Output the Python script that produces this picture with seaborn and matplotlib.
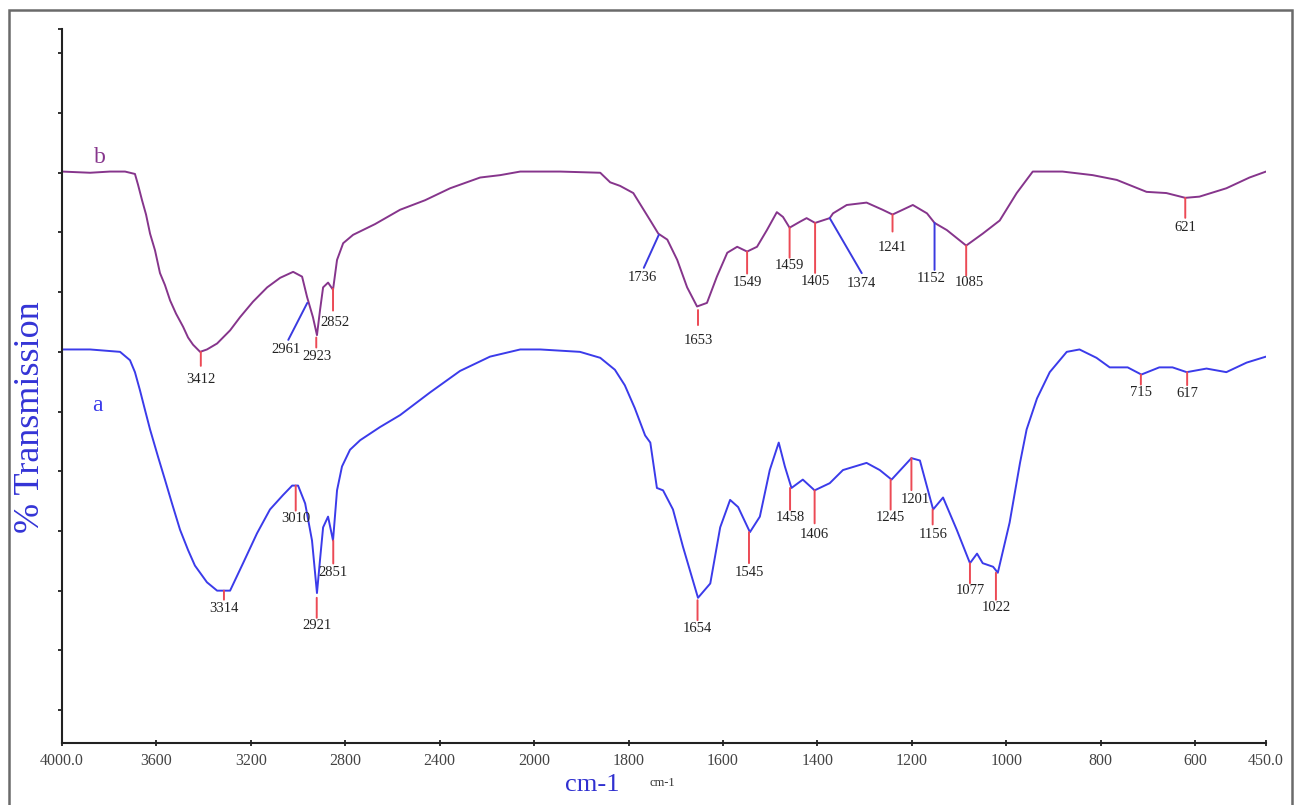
import numpy as np
import pandas as pd
import matplotlib
matplotlib.use("Agg")
import matplotlib.pyplot as plt
import seaborn as sns
from matplotlib.patches import Rectangle

# ---------------- data ----------------
wn_b = [4000, 3881, 3797, 3733, 3691, 3678, 3661, 3644, 3627, 3606, 3585, 3564, 3542, 3517, 3487,
        3466, 3445, 3415, 3386, 3343, 3288, 3246, 3191, 3131, 3076, 3021, 2983, 2962, 2937, 2920,
        2907, 2894, 2873, 2852, 2835, 2809, 2767, 2674, 2568, 2462, 2356, 2229, 2144, 2059, 2000,
        1945, 1860, 1839, 1818, 1790, 1754, 1737, 1718, 1697, 1676, 1655, 1634, 1613, 1591, 1570,
        1549, 1528, 1507, 1486, 1473, 1459, 1437, 1423, 1405, 1374, 1367, 1338, 1296, 1262, 1241,
        1198, 1168, 1152, 1126, 1085, 1050, 1014, 978, 944, 881, 817, 766, 703, 661, 621,
        591, 534, 485, 450]
t_b = [50.1, 50.0, 50.1, 50.1, 49.9, 49.0, 47.7, 46.5, 44.9, 43.5, 41.6, 40.6, 39.3, 38.2, 37.1,
       36.2, 35.6, 35.0, 35.2, 35.7, 36.8, 37.9, 39.2, 40.4, 41.2, 41.7, 41.3, 39.6, 37.9, 36.4,
       38.5, 40.4, 40.8, 40.2, 42.7, 44.1, 44.8, 45.7, 46.9, 47.7, 48.7, 49.6, 49.8, 50.1, 50.1,
       50.1, 50.0, 49.2, 48.9, 48.3, 46.0, 44.9, 44.4, 42.7, 40.4, 38.8, 39.1, 41.3, 43.3, 43.8,
       43.4, 43.8, 45.2, 46.7, 46.3, 45.4, 45.9, 46.2, 45.8, 46.2, 46.6, 47.3, 47.5, 46.9, 46.5,
       47.3, 46.6, 45.8, 45.2, 43.9, 44.9, 46.0, 48.3, 50.1, 50.1, 49.8, 49.4, 48.4, 48.3, 47.9,
       48.0, 48.7, 49.6, 50.1]

wn_a = [4000, 3881, 3754, 3712, 3691, 3670, 3648, 3627, 3593, 3564, 3534, 3500, 3466, 3437, 3386,
        3343, 3288, 3233, 3174, 3119, 3064, 3025, 3000, 2970, 2941, 2920, 2907, 2894, 2873, 2852,
        2835, 2814, 2780, 2737, 2653, 2568, 2441, 2314, 2187, 2059, 1987, 1903, 1860, 1829, 1808,
        1787, 1765, 1754, 1740, 1727, 1706, 1685, 1653, 1627, 1606, 1585, 1568, 1543, 1522, 1501,
        1482, 1469, 1455, 1431, 1406, 1374, 1346, 1296, 1268, 1243, 1201, 1183, 1155, 1134, 1105,
        1077, 1062, 1050, 1028, 1018, 993, 971, 957, 935, 908, 872, 845, 809, 781, 743,
        714, 676, 648, 618, 576, 534, 491, 450]
t_a = [35.2, 35.2, 35.0, 34.3, 33.3, 31.8, 30.1, 28.5, 26.2, 24.3, 22.3, 20.1, 18.4, 17.1, 15.7,
       15.0, 15.0, 17.3, 19.8, 21.8, 23.0, 23.8, 23.8, 22.3, 19.2, 14.8, 17.6, 20.3, 21.2, 19.2,
       23.4, 25.4, 26.8, 27.6, 28.7, 29.7, 31.6, 33.4, 34.6, 35.2, 35.2, 35.0, 34.5, 33.5, 32.2,
       30.3, 28.0, 27.4, 23.6, 23.4, 21.8, 18.7, 14.4, 15.6, 20.3, 22.6, 22.0, 19.9, 21.2, 25.1,
       27.4, 25.4, 23.6, 24.3, 23.4, 24.0, 25.1, 25.7, 25.1, 24.3, 26.1, 25.9, 21.8, 22.8, 20.1,
       17.3, 18.1, 17.3, 17.0, 16.5, 20.7, 25.7, 28.5, 31.1, 33.3, 35.0, 35.2, 34.5, 33.7, 33.7,
       33.1, 33.7, 33.7, 33.3, 33.6, 33.3, 34.1, 34.6]

# peak labels (label text = wavenumber) and transmission at the marker top
peaks_b = ['3412', '2961', '2923', '2852', '1736', '1653', '1549', '1459', '1405', '1374',
           '1241', '1152', '1085', '621']
peak_t_b = [35.0, 39.1, 36.2, 40.3, 44.8, 38.5, 43.4, 45.4, 45.8, 46.2, 46.5, 45.8, 43.9, 47.9]
peaks_a = ['3314', '3010', '2921', '2851', '1654', '1545', '1458', '1406', '1245', '1201',
           '1156', '1077', '1022', '715', '617']
peak_t_a = [15.0, 23.8, 14.4, 19.2, 14.2, 19.9, 23.6, 23.4, 24.3, 26.1, 21.8, 17.3, 16.5, 33.1, 33.3]

xtick_vals = [4000, 3600, 3200, 2800, 2400, 2000, 1800, 1600, 1400, 1200, 1000, 800, 600, 450]
xtick_labels = ['4000.0', '3600', '3200', '2800', '2400', '2000', '1800', '1600', '1400',
                '1200', '1000', '800', '600', '450.0']
ytick_vals = [5, 10, 15, 20, 25, 30, 35, 40, 45, 50, 55, 60]

# ---------------- layout (pixel offsets for peak markers) ----------------
# (line_dx, line_dy, text_dx, text_dy, color-key)
lay_b = [(0, 14, 0, 28, 'r'), (-19, 37, -21, 47, 'b'), (0, 10, 1, 19, 'r'), (0, 22, 2, 34, 'r'),
         (-15, 33, -16, 43, 'b'), (0, 15, 0, 30, 'r'), (0, 22, 0, 31, 'r'), (0, 30, 0, 38, 'r'),
         (0, 50, 0, 59, 'r'), (32, 55, 32, 65, 'b'), (0, 17, 0, 33, 'r'), (0, 47, -3, 56, 'b'),
         (0, 30, 3, 37, 'r'), (0, 20, 0, 30, 'r')]
lay_a = [(0, 9, 0, 18, 'r'), (0, 25, 0, 33, 'r'), (0, 20, 0, 28, 'r'), (0, 23, 0, 32, 'r'),
         (0, 20, 0, 28, 'r'), (0, 31, 0, 40, 'r'), (0, 22, 0, 30, 'r'), (0, 33, 0, 44, 'r'),
         (0, 30, 0, 38, 'r'), (0, 32, 4, 41, 'r'), (0, 15, 0, 25, 'r'), (0, 20, 0, 27, 'r'),
         (0, 27, 0, 35, 'r'), (0, 10, 0, 18, 'r'), (0, 13, 0, 21, 'r')]

# ---------------- figure ----------------
sns.set_theme(style="white")
plt.rcParams['font.family'] = ['Liberation Serif', 'DejaVu Serif']

W, H = 1294, 805
fig = plt.figure(figsize=(W / 100, H / 100), dpi=100)
ax = fig.add_axes([62 / W, 62 / H, 1204 / W, 714 / H])

def fwd(x):
    x = np.asarray(x, dtype=float)
    return np.where(x >= 2000, x, 2 * x - 2000)

def inv(u):
    u = np.asarray(u, dtype=float)
    return np.where(u >= 2000, u, (u + 2000) / 2)

ax.set_xscale('function', functions=(fwd, inv))

col_b = '#86358c'
col_a = '#3b3bea'
df_b = pd.DataFrame({'wn': wn_b, 'T': t_b})
df_a = pd.DataFrame({'wn': wn_a, 'T': t_a})
sns.lineplot(data=df_b, x='wn', y='T', ax=ax, color=col_b, lw=1.4, estimator=None)
sns.lineplot(data=df_a, x='wn', y='T', ax=ax, color=col_a, lw=1.4, estimator=None)

ax.set_xlim(4000, 450)
ax.set_ylim(2.24, 62.04)

colors = {'r': '#ec4a55', 'b': '#3a3ae0'}

def mark(labels, tvals, lay):
    for lab, tv, (ldx, ldy, tdx, tdy, ck) in zip(labels, tvals, lay):
        x = float(lab)
        ax.annotate('', xy=(x, tv), xytext=(ldx, -ldy), textcoords='offset pixels',
                    arrowprops=dict(arrowstyle='-', color=colors[ck], lw=1.4,
                                    shrinkA=0, shrinkB=0))
        ax.annotate(lab, xy=(x, tv), xytext=(tdx, -tdy), textcoords='offset pixels',
                    ha='center', va='center', fontsize=10.5, color='#222222')

mark(peaks_b, peak_t_b, lay_b)
mark(peaks_a, peak_t_a, lay_a)

ax.text(3839, 51.3, 'b', color=col_b, fontsize=17, ha='center', va='center')
ax.text(3852, 30.5, 'a', color=col_a, fontsize=17, ha='center', va='center')

ax.set_xticks(xtick_vals)
ax.set_xticklabels(xtick_labels)
ax.set_yticks(ytick_vals + [62.04])
ax.set_yticklabels([])
ax.minorticks_off()
ax.tick_params(axis='x', direction='inout', length=5, width=1.3, colors='#222222',
               labelcolor='#444444', labelsize=11.5, pad=5, bottom=True)
ax.tick_params(axis='y', direction='out', length=3, width=1.3, colors='#222222', left=True)
ax.set_xlabel('')
ax.set_ylabel('')

for s in ['top', 'right']:
    ax.spines[s].set_visible(False)
for s in ['left', 'bottom']:
    ax.spines[s].set_visible(True)
    ax.spines[s].set_color('#222222')
    ax.spines[s].set_linewidth(1.5)

fig.text(31 / W, 1 - 417 / H, '% Transmission', rotation=90, ha='center', va='center',
         fontsize=26, color='#3434d6')
fig.text(592 / W, 1 - 785 / H, 'cm-1', ha='center', va='center', fontsize=19, color='#3030d0')
fig.text(662 / W, 1 - 783 / H, 'cm-1', ha='center', va='center', fontsize=9, color='#333333')

fig.add_artist(Rectangle((9 / W, -0.02), (1292 - 9) / W, (H - 10) / H + 0.02,
                         transform=fig.transFigure, fill=False, ec='#6a6a6a', lw=1.8))

fig.savefig('out.png', dpi=100)
